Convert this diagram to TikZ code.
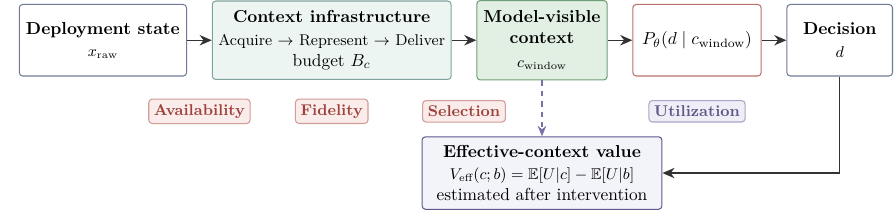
\documentclass[tikz,border=0pt]{standalone}
\usepackage{amsmath,amssymb}
\usetikzlibrary{positioning,arrows.meta,calc}

\definecolor{slateline}{HTML}{6E7A96}
\definecolor{infrafill}{HTML}{EDF5F3}
\definecolor{infraline}{HTML}{7FA39C}
\definecolor{visfill}{HTML}{E2F0E4}
\definecolor{visline}{HTML}{6E9E76}
\definecolor{policyline}{HTML}{B8716B}
\definecolor{tagredfill}{HTML}{FAECEA}
\definecolor{tagredline}{HTML}{D29C97}
\definecolor{tagredtext}{HTML}{9E423C}
\definecolor{tagbluefill}{HTML}{EFEEF6}
\definecolor{tagblueline}{HTML}{A8A6CA}
\definecolor{tagbluetext}{HTML}{5C5888}
\definecolor{efffill}{HTML}{F3F3FA}
\definecolor{effline}{HTML}{5E5A8C}
\definecolor{dashcol}{HTML}{7A70A8}

\begin{document}
\begin{tikzpicture}[
    node distance=0.5cm,
    box/.style={rectangle, draw, rounded corners=2pt, align=center, semithick, minimum height=1.45cm, inner sep=3pt},
    tag/.style={rectangle, draw=tagredline, fill=tagredfill, text=tagredtext, rounded corners=2pt, font=\small\bfseries, inner sep=3pt, semithick},
    arrow/.style={-{Stealth[length=7pt,width=6pt]}, thick, black!80},
    dasharrow/.style={-{Stealth[length=6pt,width=5pt]}, thick, dashed, dashcol}
]
\node[box, draw=slateline, minimum width=3.39cm] (dep) {\textbf{Deployment state}\\[1pt] {\small $x_{\text{raw}}$}};
\node[box, draw=infraline, fill=infrafill, minimum width=4.84cm, minimum height=1.59cm, right=of dep] (ctx) {\textbf{Context infrastructure}\\[1pt] {\small Acquire $\rightarrow$ Represent $\rightarrow$ Deliver}\\ budget $B_c$};
\node[box, draw=visline, fill=visfill, minimum width=2.64cm, minimum height=1.61cm, right=of ctx] (vis) {\textbf{Model-visible}\\ \textbf{context}\\[2pt] {\small $c_{\text{window}}$}};
\node[box, draw=policyline, minimum width=2.6cm, right=of vis] (pol) {$P_\theta(d \mid c_{\text{window}})$};
\node[box, draw=slateline, minimum width=2.14cm, right=of pol] (dec) {\textbf{Decision}\\[1pt] {\small $d$}};

\node[tag, yshift=-1.44cm] (avail) at ($(dep.east)!0.5!(ctx.west)$) {Availability};
\node[tag, yshift=-1.44cm] (fid) at (ctx) {Fidelity};
\node[tag, yshift=-1.44cm] (sel) at ($(ctx.east)!0.5!(vis.west)$) {Selection};
\node[tag, draw=tagblueline, fill=tagbluefill, text=tagbluetext, yshift=-1.44cm] (util) at (pol) {Utilization};

\node[box, draw=effline, fill=efffill, minimum width=4.86cm, minimum height=1.47cm, below=1.13cm of vis] (eff) {\textbf{Effective-context value}\\[1pt] {\small $V_{\text{eff}}(c;b) = \mathbb{E}[U|c] - \mathbb{E}[U|b]$}\\ estimated after intervention};

\draw[arrow] (dep) -- (ctx);
\draw[arrow] (ctx) -- (vis);
\draw[arrow] (vis) -- (pol);
\draw[arrow] (pol) -- (dec);
\draw[dasharrow] (vis) -- (eff);
\draw[arrow] (dec.south) |- (eff.east);

\useasboundingbox ([xshift=-0.38cm]dep.west |- vis.north) rectangle ([xshift=0.02cm]dec.east |- eff.south);
\end{tikzpicture}
\end{document}
